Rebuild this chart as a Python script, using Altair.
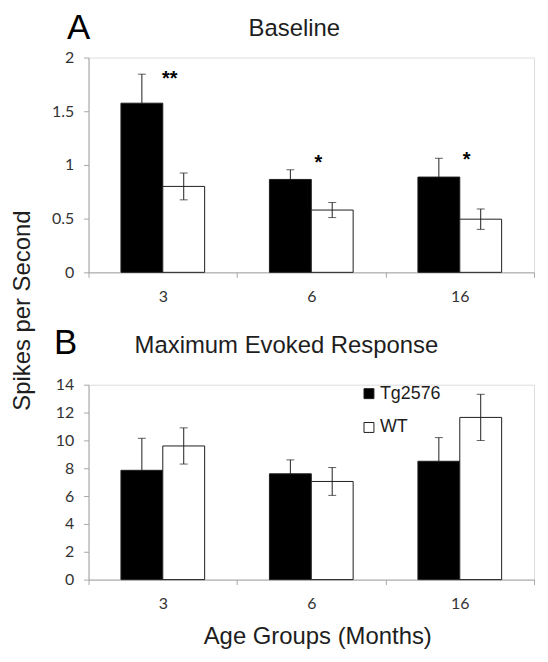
import altair as alt
import pandas as pd

# ---- data ----
ages = ["3", "6", "16"]
groups = ["Tg2576", "WT"]

baseline_tg = [1.575, 0.865, 0.887]
baseline_tg_err = [0.27, 0.09, 0.175]
baseline_wt = [0.80, 0.58, 0.495]
baseline_wt_err = [0.125, 0.07, 0.095]

evoked_tg = [7.85, 7.6, 8.5]
evoked_tg_err = [2.3, 1.0, 1.7]
evoked_wt = [9.6, 7.05, 11.65]
evoked_wt_err = [1.3, 1.0, 1.66]

sig_marks = ["**", "*", "*"]
sig_level = [1.845, 1.06, 1.095]

yticks_a = [0, 0.5, 1, 1.5, 2]
yticks_b = [0, 2, 4, 6, 8, 10, 12, 14]


def frame(tg, tg_err, wt, wt_err):
    rows = []
    for i, a in enumerate(ages):
        for g, v, e in ((groups[0], tg[i], tg_err[i]), (groups[1], wt[i], wt_err[i])):
            # the lower half of the black bars' error bar is hidden inside the bar
            lo_vis = v if g == groups[0] else v - e
            rows.append({"age": a, "group": g, "value": v, "lo": v - e, "hi": v + e,
                         "lo_vis": lo_vis})
    return pd.DataFrame(rows)


FONT = "Liberation Sans"
TICKFONT = "Lato"
AXIS_GRAY = "#a6a6a6"
INK = "#1e1e1e"
W = 448


def panel(df, ymax, yticks, height, title_text, title_x, title_y,
          letter, letter_x, letter_y, show_legend, y_title, x_title, sig=None):
    x_axis = dict(title=None, labelAngle=0, tickBand="extent", domainColor=AXIS_GRAY,
                  tickColor=AXIS_GRAY, tickSize=5, labelFont=TICKFONT, labelFontSize=16,
                  labelColor="#333333", labelPadding=11, grid=False)
    if x_title:
        x_axis.update(title=x_title, titleFont=FONT, titleFontSize=24, titleFontWeight="normal",
                      titleColor=INK, titleX=W / 2 + 6, titleY=64, titleBaseline="alphabetic",
                      titleAlign="center")
    y_axis = dict(title=None, values=yticks, format="~g", domainColor=AXIS_GRAY,
                  tickColor=AXIS_GRAY, tickSize=5, labelFont=TICKFONT, labelFontSize=16,
                  labelColor="#333333", labelPadding=10, grid=False, labelOverlap=False)
    if y_title:
        y_axis.update(title=y_title, titleFont=FONT, titleFontSize=24, titleFontWeight="normal",
                      titleColor=INK, titleX=-59, titleY=-75, titleAngle=270,
                      titleBaseline="alphabetic", titleAlign="center")

    x = alt.X("age:N", sort=ages, scale=alt.Scale(paddingInner=0, paddingOuter=0),
              axis=alt.Axis(**x_axis))
    xo = alt.XOffset("group:N", sort=groups,
                     scale=alt.Scale(paddingInner=0, paddingOuter=0.774))
    yscale = alt.Scale(domain=[0, ymax], nice=False, zero=True)

    def Y(field):
        return alt.Y(field, type="quantitative", scale=yscale, axis=alt.Axis(**y_axis))

    if show_legend:
        legend = alt.Legend(title=None, orient="none", legendX=273, legendY=0,
                            symbolType="square", symbolSize=100, symbolStrokeColor=INK,
                            symbolStrokeWidth=1, labelFont=FONT, labelFontSize=18,
                            labelColor=INK, labelOffset=2, rowPadding=16, padding=0)
    else:
        legend = None

    base = alt.Chart(df)
    bars = base.mark_bar(stroke=INK, strokeWidth=1).encode(
        x=x, xOffset=xo, y=Y("value"),
        fill=alt.Fill("group:N", sort=groups,
                      scale=alt.Scale(domain=groups, range=["#000000", "#ffffff"]),
                      legend=legend),
    )
    whisk = base.mark_rule(color=INK, strokeWidth=1).encode(
        x=x, xOffset=xo, y=Y("lo_vis"), y2="hi:Q")
    cap_hi = base.mark_tick(color=INK, size=8, thickness=1).encode(
        x=x, xOffset=xo, y=Y("hi"))
    cap_lo = base.transform_filter(alt.datum.group == groups[1]).mark_tick(
        color=INK, size=8, thickness=1).encode(x=x, xOffset=xo, y=Y("lo"))

    letter_layer = alt.Chart(pd.DataFrame({"letter": [letter]})).mark_text(
        font=FONT, fontSize=35, color="#000000", align="center", baseline="alphabetic"
    ).encode(text="letter:N", x=alt.value(letter_x), y=alt.value(letter_y))

    title_layer = alt.Chart(pd.DataFrame({"title": [title_text]})).mark_text(
        font=FONT, fontSize=24, color=INK, align="center", baseline="alphabetic"
    ).encode(text="title:N", x=alt.value(title_x), y=alt.value(title_y))

    layers = [bars, whisk, cap_hi, cap_lo, letter_layer, title_layer]
    if sig is not None:
        sig_layer = alt.Chart(sig).mark_text(
            font=FONT, fontSize=20, fontWeight="bold", color="#000000",
            align="center", baseline="alphabetic", dx=7, dy=11
        ).encode(x=x, y=Y("level"), text="sig:N")
        layers.append(sig_layer)

    return alt.layer(*layers).properties(width=W, height=height)


df_a = frame(baseline_tg, baseline_tg_err, baseline_wt, baseline_wt_err)
df_b = frame(evoked_tg, evoked_tg_err, evoked_wt, evoked_wt_err)
df_sig = pd.DataFrame({"age": ages, "sig": sig_marks, "level": sig_level})

panel_a = panel(df_a, 2, yticks_a, 216, "Baseline", 207, -22, "A", -10, -19,
                False, None, None, sig=df_sig)
panel_b = panel(df_b, 14, yticks_b, 196, "Maximum Evoked Response", 199, -32, "B", -23, -31,
                True, "Spikes per Second", "Age Groups (Months)")

chart = alt.vconcat(panel_a, panel_b, spacing=113, bounds="flush").resolve_scale(
    fill="independent"
).configure_view(stroke=None).configure(padding={"left": 2, "top": 0, "right": 5, "bottom": 5})

chart.save("out.html", embed_options={"renderer": "svg", "actions": False})
